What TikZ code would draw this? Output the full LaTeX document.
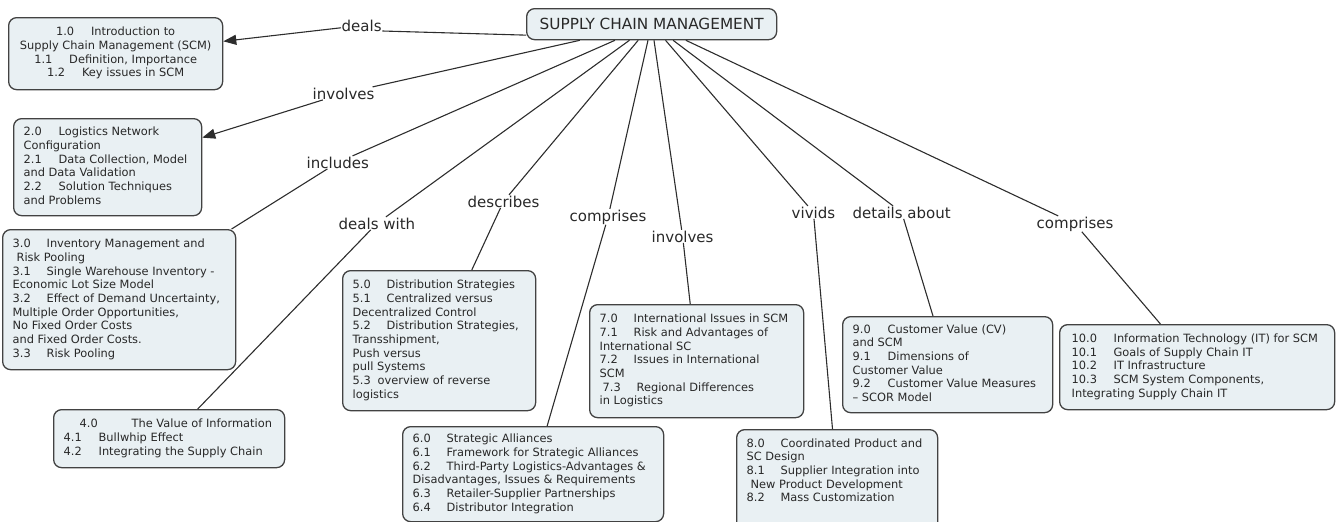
\documentclass[tikz,border=0pt]{standalone}
\usepackage{fontspec}
\setmainfont{DejaVu Sans}
\usetikzlibrary{arrows.meta}

\definecolor{boxfill}{RGB}{233,240,243}
\definecolor{boxline}{RGB}{66,66,66}
\definecolor{ink}{RGB}{40,40,40}
\definecolor{linkline}{RGB}{45,45,45}

% a block of lines of fixed width, never re-broken
\newcommand\textcol[3]{\makebox[#1][#2]{\begin{tabular}{@{}#2@{}}#3\end{tabular}}}
% section number followed by a tab stop
\newcommand\numcol[2][34pt]{\makebox[#1][l]{#2}}

\tikzset{
  topic/.style={draw=boxline, line width=1.3pt, fill=boxfill, rounded corners=8pt,
    inner xsep=10pt, inner ysep=0pt, anchor=north west, text=ink,
    font=\fontsize{11.4}{13.67}\selectfont},
  hub/.style={draw=boxline, line width=1.3pt, fill=boxfill, rounded corners=8pt,
    anchor=north west, minimum width=250pt, minimum height=31pt, inner sep=0pt,
    text=ink, font=\fontsize{15.3}{18}\selectfont},
  linkword/.style={anchor=base west, inner sep=0.5pt, text=ink,
    font=\fontsize{15}{18}\selectfont},
  link/.style={draw=linkline, line width=1.1pt},
  arrowlink/.style={link, -{Triangle[length=13pt,width=10pt]}}
}

\begin{document}
\begin{tikzpicture}[x=1pt,y=-1pt]
\useasboundingbox (0,0) rectangle (1342,522);

% central concept
\node[hub] (scm) at (526,8) {SUPPLY CHAIN MANAGEMENT};

% linking phrases
\node[linkword] (w1)  at (341,31)  {deals};
\node[linkword] (w2)  at (312,99)  {involves};
\node[linkword] (w3)  at (306,168) {includes};
\node[linkword] (w4)  at (338,229) {deals with};
\node[linkword] (w5)  at (467,207) {describes};
\node[linkword] (w6)  at (569,221) {comprises};
\node[linkword] (w7)  at (651,242) {involves};
\node[linkword] (w8)  at (791,218) {vivids};
\node[linkword] (w9)  at (852,218) {details about};
\node[linkword] (w10) at (1036,228) {comprises};

% topic boxes
\node[topic, minimum height=72pt] (b1) at (8,17) {\textcol{194pt}{c}{%
  \numcol[35pt]{1.0}Introduction to\\
  Supply Chain Management (SCM)\\
  \numcol[35pt]{1.1}Definition, Importance\\
  \numcol[35pt]{1.2}Key issues in SCM}};

\node[topic, minimum height=97pt] (b2) at (13,118) {\textcol{168pt}{l}{%
  \numcol[35pt]{2.0}Logistics Network\\
  Configuration\\
  \numcol[35pt]{2.1}Data Collection, Model\\
  and Data Validation\\
  \numcol[35pt]{2.2}Solution Techniques\\
  and Problems}};

\node[topic, minimum height=140pt] (b3) at (2,229) {\textcol{213pt}{l}{%
  \numcol{3.0}Inventory Management and\\
  \hspace*{4pt}Risk Pooling\\
  \numcol{3.1}Single Warehouse Inventory -\\
  Economic Lot Size Model\\
  \numcol{3.2}Effect of Demand Uncertainty,\\
  Multiple Order Opportunities,\\
  No Fixed Order Costs\\
  and Fixed Order Costs.\\
  \numcol{3.3}Risk Pooling}};

\node[topic, minimum height=58pt] (b4) at (53,409) {\textcol{211pt}{l}{%
  \hspace*{16pt}\numcol[52pt]{4.0}The Value of Information\\
  \numcol[35pt]{4.1}Bullwhip Effect\\
  \numcol[35pt]{4.2}Integrating the Supply Chain}};

\node[topic, minimum height=140pt] (b5) at (342,270) {\textcol{173pt}{l}{%
  \numcol{5.0}Distribution Strategies\\
  \numcol{5.1}Centralized versus\\
  Decentralized Control\\
  \numcol{5.2}Distribution Strategies,\\
  Transshipment,\\
  Push versus\\
  pull Systems\\
  \numcol[25pt]{5.3}overview of reverse\\
  logistics}};

\node[topic, minimum height=95pt] (b6) at (402,426) {\textcol{241pt}{l}{%
  \numcol{6.0}Strategic Alliances\\
  \numcol{6.1}Framework for Strategic Alliances\\
  \numcol{6.2}Third-Party Logistics-Advantages \&\\
  Disadvantages, Issues \& Requirements\\
  \numcol{6.3}Retailer-Supplier Partnerships\\
  \numcol{6.4}Distributor Integration}};

\node[topic, minimum height=113pt] (b7) at (589,304) {\textcol{194pt}{l}{%
  \numcol{7.0}International Issues in SCM\\
  \numcol{7.1}Risk and Advantages of\\
  International SC\\
  \numcol{7.2}Issues in International\\
  SCM\\
  \hspace*{3pt}\numcol{7.3}Regional Differences\\
  in Logistics}};

\node[topic, inner ysep=8pt] (b8) at (736,429) {\textcol{181pt}{l}{%
  \numcol{8.0}Coordinated Product and\\
  SC Design\\
  \numcol{8.1}Supplier Integration into\\
  \hspace*{4pt}New Product Development\\
  \numcol{8.2}Mass Customization\rule[-24pt]{0pt}{0pt}}};

\node[topic, minimum height=96pt] (b9) at (842,316) {\textcol{190pt}{l}{%
  \numcol[35pt]{9.0}Customer Value (CV)\\
  and SCM\\
  \numcol[35pt]{9.1}Dimensions of\\
  Customer Value\\
  \numcol[35pt]{9.2}Customer Value Measures\\
  – SCOR Model}};

\node[topic, minimum height=85pt, inner xsep=12pt] (b10) at (1059,324) {\textcol{251pt}{l}{%
  \numcol[42pt]{10.0}Information Technology (IT) for SCM\\
  \numcol[42pt]{10.1}Goals of Supply Chain IT\\
  \numcol[42pt]{10.2}IT Infrastructure\\
  \numcol[42pt]{10.3}SCM System Components,\\
  Integrating Supply Chain IT}};

% connectors: hub -- linking phrase -- topic
\draw[link] (w1.base east) -- (scm.185.7);
\draw[arrowlink] (w1) -- (b1);
\draw[link] (w2) -- (scm);
\draw[arrowlink] (w2) -- (b2);
\draw[link] (w3) -- (scm);
\draw[link] (w3) -- (b3);
\draw[link] (w4) -- (scm);
\draw[link] (w4) -- (b4);
\draw[link] (w5) -- (scm);
\draw[link] (w5) -- (b5);
\draw[link] (w6) -- (scm);
\draw[link] (w6) -- (b6);
\draw[link] (w7) -- (scm);
\draw[link] (w7) -- (b7);
\draw[link] (w8) -- (scm);
\draw[link] (w8) -- (b8);
\draw[link] (w9) -- (scm);
\draw[link] (w9) -- (b9);
\draw[link] (w10) -- (scm);
\draw[link] (w10) -- (b10);
\end{tikzpicture}
\end{document}
